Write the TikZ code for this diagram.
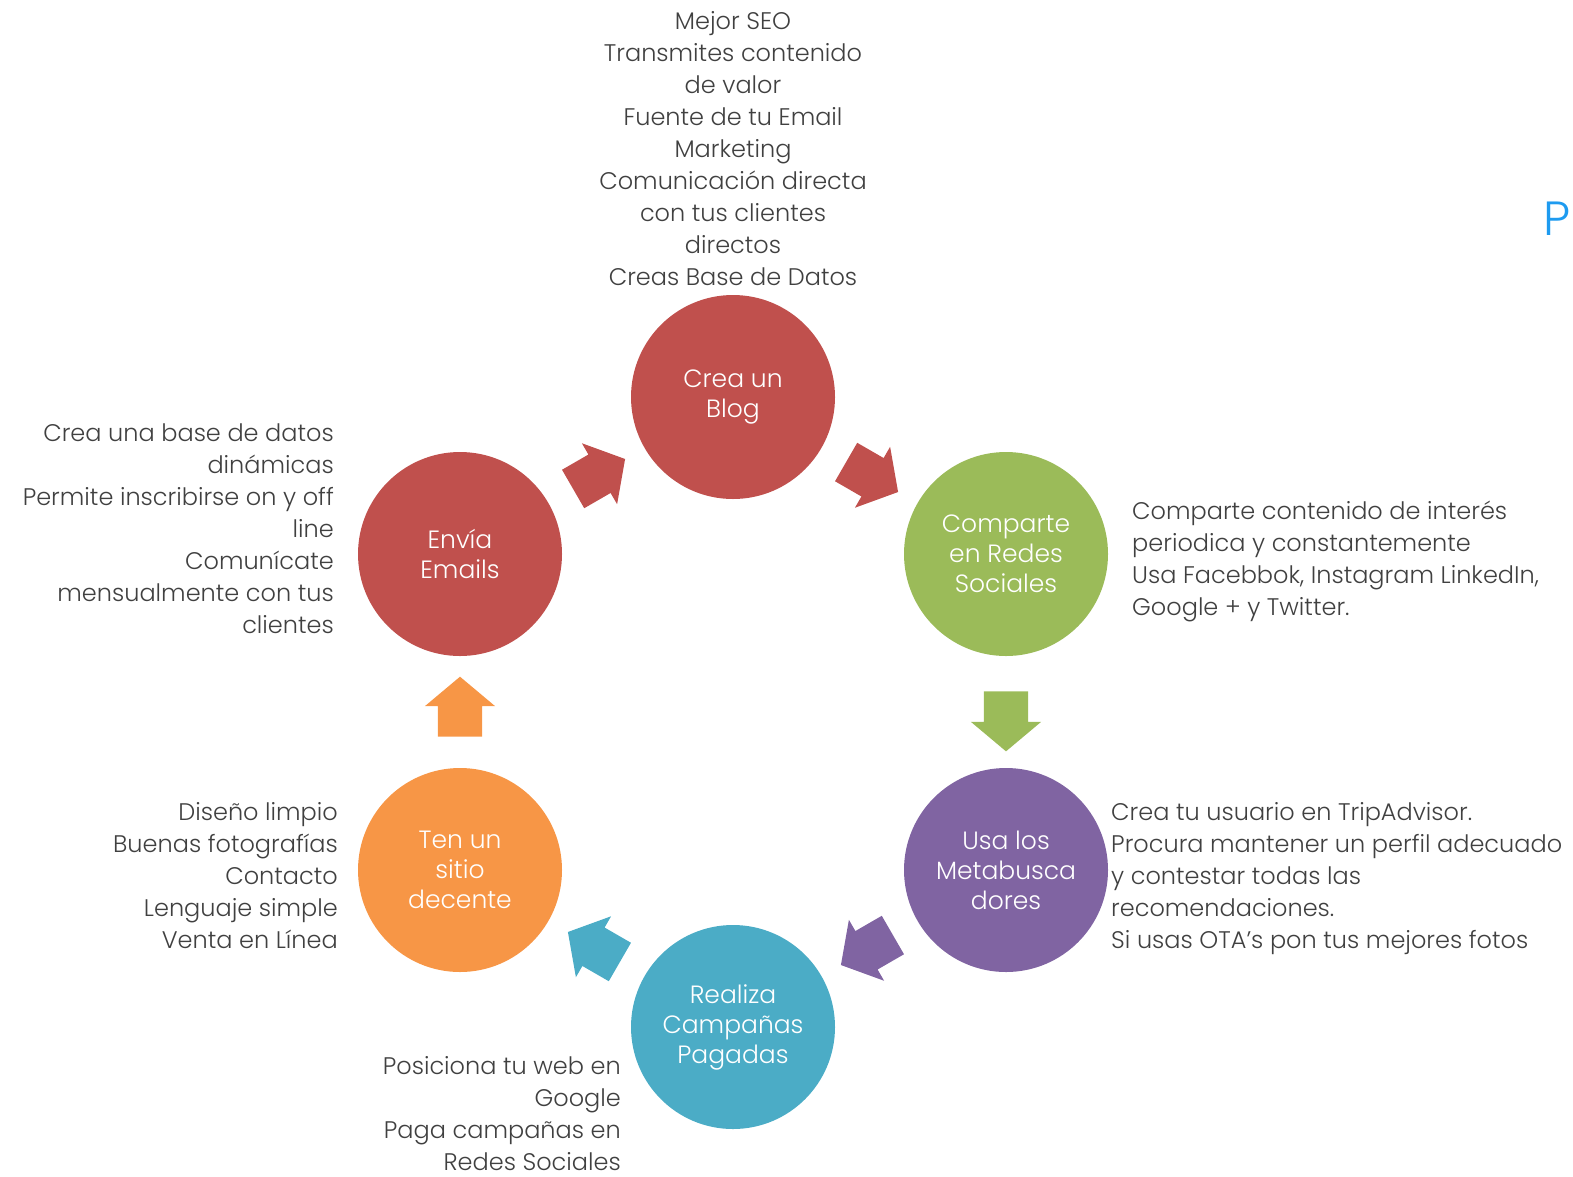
\documentclass[tikz,border=0pt]{standalone}
\usepackage{fontspec}
\setmainfont{Poppins}[UprightFont=*-Light, BoldFont=*-Regular]
\usetikzlibrary{calc, positioning, shapes.arrows}

\definecolor{blogred}{HTML}{C0504D}
\definecolor{sharegreen}{HTML}{9BBB59}
\definecolor{metapurple}{HTML}{8064A2}
\definecolor{paidteal}{HTML}{4BACC6}
\definecolor{siteorange}{HTML}{F79646}
\definecolor{notegray}{HTML}{404040}
\definecolor{edgeblue}{HTML}{1E9BF0}

\begin{document}
\begin{tikzpicture}[x=1pt, y=1pt,
		phase/.style={circle, minimum size=204pt, inner sep=0pt, text=white, align=center, font=\fontsize{25}{30}\selectfont},
		note/.style={text=notegray, inner sep=0pt, font=\fontsize{24}{32}\selectfont},
		flow/.style={single arrow, draw=none, inner xsep=0pt, inner ysep=22pt, single arrow head extend=13pt, single arrow tip angle=100, minimum height=60pt}]
		\useasboundingbox (0,0) rectangle (1573,-1176);

		\node[phase, fill=blogred]     (blog)    at (733,-397)  {Crea un\\Blog};
		\node[phase, fill=sharegreen]  (share)   at (1006,-554) {Comparte\\en Redes\\Sociales};
		\node[phase, fill=metapurple]  (meta)    at (1006,-870) {Usa los\\Metabusca\\dores};
		\node[phase, fill=paidteal]    (paid)    at (733,-1027) {Realiza\\Campañas\\Pagadas};
		\node[phase, fill=siteorange]  (site)    at (460,-870)  {Ten un\\sitio\\decente};
		\node[phase, fill=blogred]     (mail)    at (460,-554)  {Envía\\Emails};

		% arrows between the steps
		\node[flow, fill=blogred, rotate=-30]     (blogshare) at ($(blog)!0.48!(share)$) {};
		\node[flow, fill=sharegreen, rotate=-90]  (sharemeta) at (1006,-712) {};
		\node[flow, fill=metapurple, rotate=210]  (metapaid)  at ($(meta)!0.48!(paid)$) {};
		\node[flow, fill=paidteal, rotate=150]    (paidsite)  at ($(paid)!0.48!(site)$) {};
		\node[flow, fill=siteorange, rotate=90]   (sitemail)  at (460,-716) {};
		\node[flow, fill=blogred, rotate=30]      (mailblog)  at ($(mail)!0.48!(blog)$) {};

		\node[note, align=center, anchor=north] (blogtxt) at (733,-11) {Mejor SEO\\Transmites contenido\\de valor\\Fuente de tu Email\\Marketing\\Comunicación directa\\con tus clientes\\directos\\Creas Base de Datos};
		\node[note, align=left, anchor=north west] (sharetxt) at (1132,-501) {Comparte contenido de interés\\periodica y constantemente\\Usa Facebbok, Instagram LinkedIn,\\Google + y Twitter.};
		\node[note, align=left, anchor=north west] (metatxt) at (1111,-802) {Crea tu usuario en TripAdvisor.\\Procura mantener un perfil adecuado\\y contestar todas las\\recomendaciones.\\Si usas OTA’s pon tus mejores fotos};
		\node[note, align=right, anchor=north east] (paidtxt) at (621,-1056) {Posiciona tu web en\\Google\\Paga campañas en\\Redes Sociales};
		\node[note, align=right, anchor=north east] (sitetxt) at (338,-802) {Diseño limpio\\Buenas fotografías\\Contacto\\Lenguaje simple\\Venta en Línea};
		\node[note, align=right, anchor=north east] (mailtxt) at (334,-424) {Crea una base de datos\\dinámicas\\Permite inscribirse on y off\\line\\Comunícate\\mensualmente con tus\\clientes};

		\node[text=edgeblue, inner sep=0pt, anchor=base west, font=\fontsize{48}{48}\selectfont] (edge) at (1543,-235) {P};
	\end{tikzpicture}
\end{document}
